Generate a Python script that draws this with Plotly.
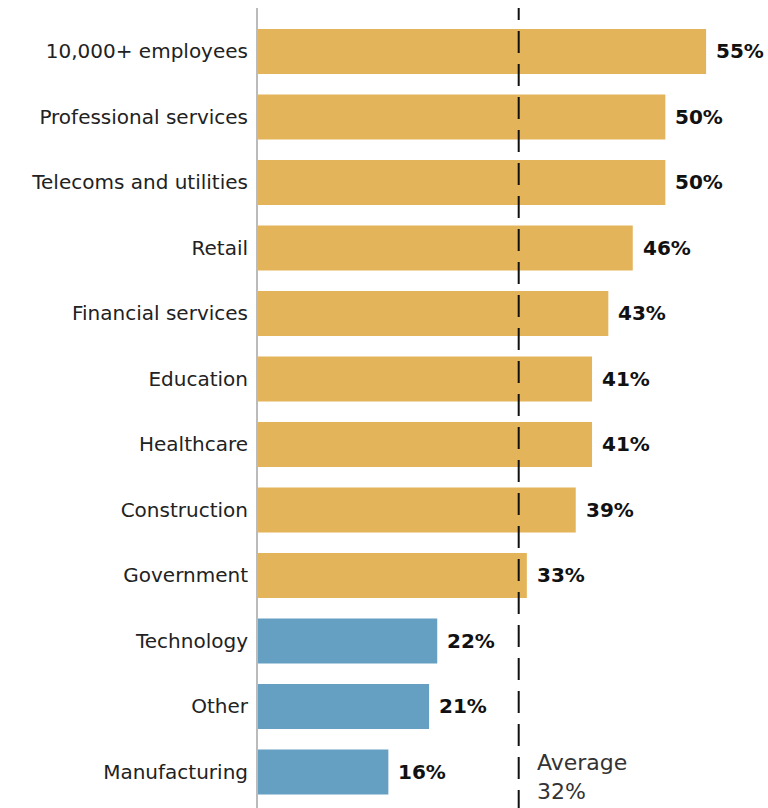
import plotly.graph_objects as go

# Share of respondents by sector / organisation size (top to bottom)
categories = [
    "10,000+ employees", "Professional services", "Telecoms and utilities",
    "Retail", "Financial services", "Education", "Healthcare",
    "Construction", "Government", "Technology", "Other", "Manufacturing",
]
values = [55, 50, 50, 46, 43, 41, 41, 39, 33, 22, 21, 16]
average = 32

GOLD = "#E4B45A"
BLUE = "#659FC1"
FONT = "DejaVu Sans"

bar_colors = [GOLD if v > average else BLUE for v in values]

fig = go.Figure()
fig.add_trace(go.Bar(
    x=values,
    y=categories,
    orientation="h",
    marker=dict(color=bar_colors, line=dict(width=0)),
    hoverinfo="skip",
))

# value labels just right of each bar end
for cat, v in zip(categories, values):
    fig.add_annotation(
        x=v, y=cat, xref="x", yref="y",
        text=f"<b>{v}%</b>", showarrow=False,
        xanchor="left", yanchor="middle", xshift=8,
        font=dict(family=FONT, size=20, color="#111111"),
    )

# dashed average marker
fig.add_shape(
    type="line", xref="x", yref="y",
    x0=average, x1=average, y0=-0.817, y1=12.5,
    line=dict(color="#111111", width=2, dash="22px,11px"),
    layer="above",
)
fig.add_annotation(
    x=average, y=11, xref="x", yref="y",
    text=f"Average<br>{average}%", showarrow=False,
    xanchor="left", yanchor="middle", align="left",
    xshift=16, yshift=-5,
    font=dict(family=FONT, size=22, color="#333333"),
)

fig.update_layout(
    width=768, height=808,
    margin=dict(l=258, r=0, t=8, b=0),
    paper_bgcolor="white", plot_bgcolor="white",
    bargap=0.31,
    showlegend=False,
    font=dict(family=FONT, size=20, color="#222222"),
)
fig.update_xaxes(
    range=[0, 62.6], visible=False, showgrid=False, zeroline=False,
)
fig.update_yaxes(
    type="category",
    range=[11.55, -0.664],
    showgrid=False, zeroline=False,
    showline=True, linecolor="#BBBBBB", linewidth=2,
    ticks="", ticklabelstandoff=4,
    tickfont=dict(family=FONT, size=20, color="#222222"),
)

fig.write_html("out.html")
